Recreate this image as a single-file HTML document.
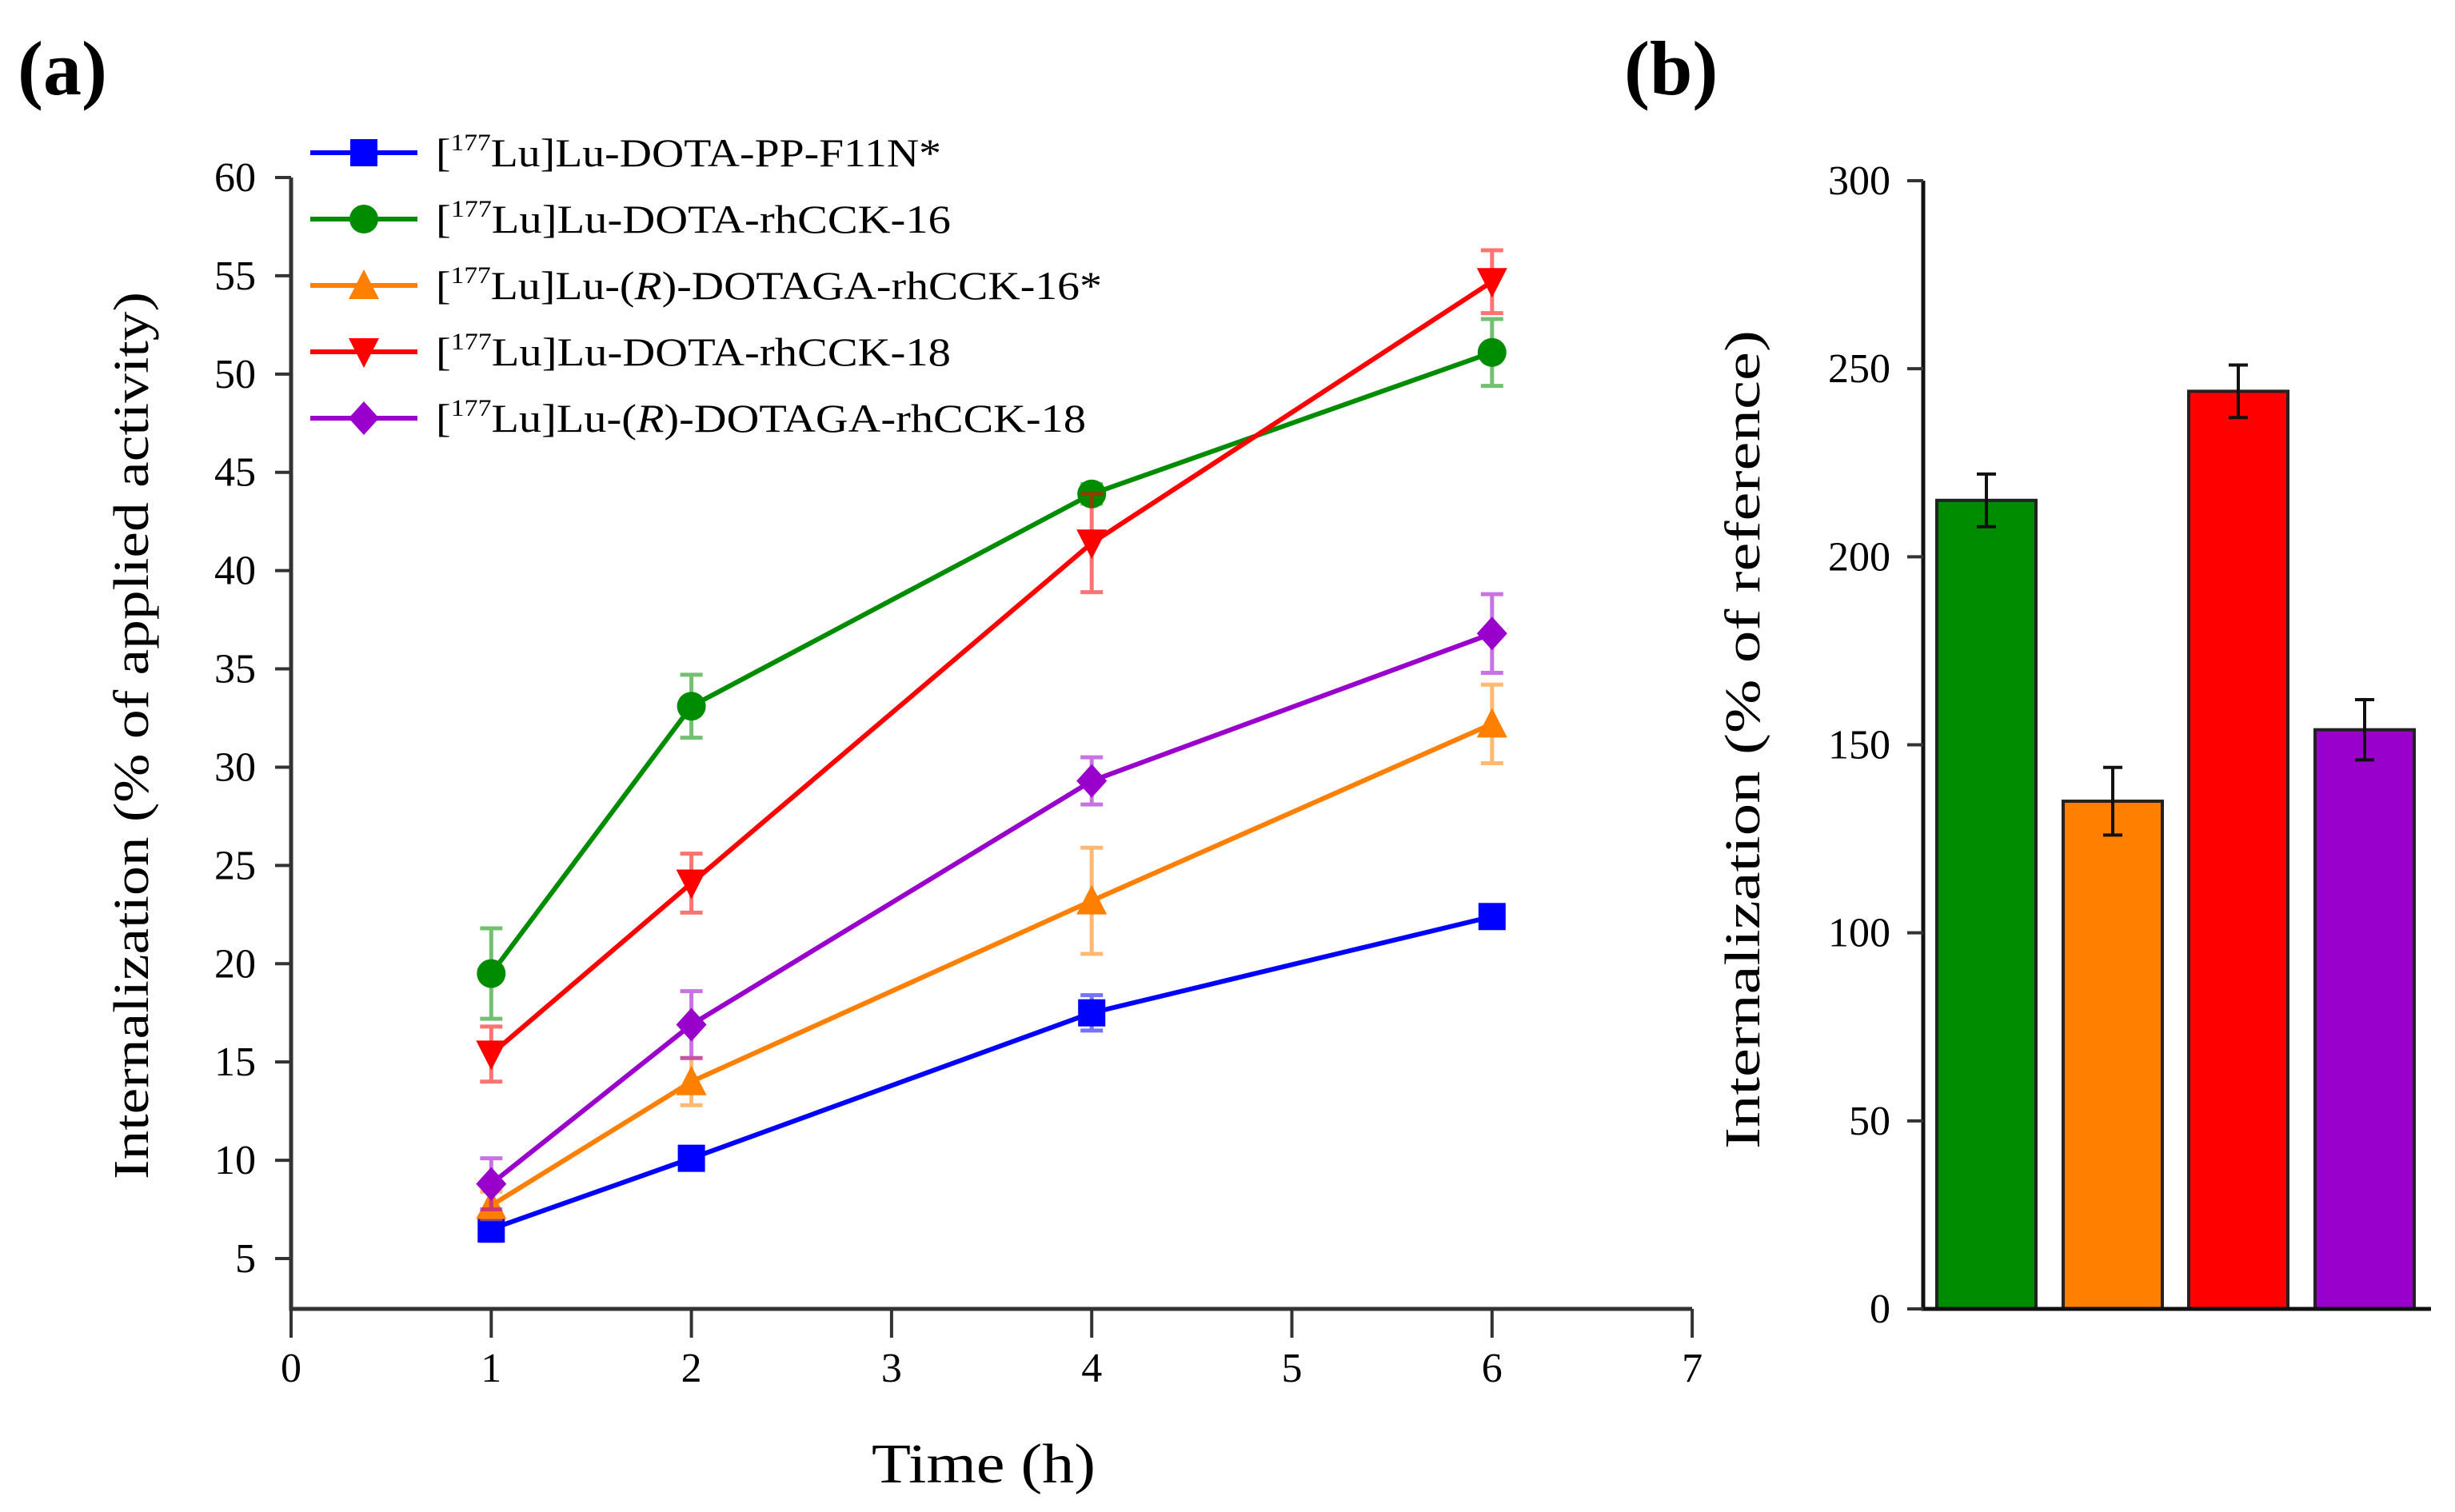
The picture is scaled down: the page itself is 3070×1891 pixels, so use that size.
<!DOCTYPE html>
<html><head><meta charset="utf-8"><style>
html,body{margin:0;padding:0;background:#fff;}
svg{display:block;font-family:"Liberation Serif",serif;}
</style></head><body>
<svg id="chart" width="3070" height="1891" viewBox="0 0 3070 1891" xmlns="http://www.w3.org/2000/svg">
<text x="22" y="118" font-size="96" font-weight="bold">(a)</text>
<text x="2031" y="118" font-size="96" font-weight="bold">(b)</text>
<g id="pa"></g>
<g id="pb"></g>
</svg>
<script>
const times=[1,2,4,6];
const seriesNames=["DOTA-PP-F11N*","DOTA-rhCCK-16","(R)-DOTAGA-rhCCK-16*","DOTA-rhCCK-18","(R)-DOTAGA-rhCCK-18"];
const blueVals=[6.5,10.1,17.5,22.4];
const blueErr=[0.6,0.5,0.9,0.5];
const greenVals=[19.5,33.1,43.9,51.1];
const greenErr=[2.3,1.6,0.5,1.7];
const orangeVals=[7.7,14.0,23.2,32.2];
const orangeErr=[0.7,1.2,2.7,2.0];
const redVals=[15.4,24.1,41.4,54.7];
const redErr=[1.4,1.5,2.5,1.6];
const purpleVals=[8.8,16.9,29.3,36.8];
const purpleErr=[1.3,1.7,1.2,2.0];
const xTicks=[0,1,2,3,4,5,6,7];
const yTicks=[5,10,15,20,25,30,35,40,45,50,55,60];
const barVals=[215,135,244,154];
const barErr=[7,9,7,8];
const barTicks=[0,50,100,150,200,250,300];

const NS="http://www.w3.org/2000/svg";
function mk(parent,tag,attrs,text){const e=document.createElementNS(NS,tag);for(const k in attrs)e.setAttribute(k,attrs[k]);if(text!==undefined)e.textContent=text;parent.appendChild(e);return e;}
const pa=document.getElementById('pa'), pb=document.getElementById('pb');
const xs=v=>364+v*250.3;
const ys=v=>1574-(v-5)*(1352/55);
const axA=mk(pa,'path',{d:`M364,222 L364,1637 L2116,1637`,stroke:'#333',fill:'none','stroke-width':5});


yTicks.forEach(t=>{
  const l=mk(pa,'line',{x1:344,x2:364,y1:ys(t),y2:ys(t),stroke:'#333','stroke-width':4});
  
  
  const tx=mk(pa,'text',{x:320,y:ys(t)+17,'font-size':52,'text-anchor':'end'},String(t));
  
  
});
xTicks.forEach(t=>{
  const l=mk(pa,'line',{x1:xs(t),x2:xs(t),y1:1637,y2:1673,stroke:'#333','stroke-width':4});
  
  
  const tx=mk(pa,'text',{x:xs(t),y:1728,'font-size':52,'text-anchor':'middle'},String(t));
  
  
});
let t1=mk(pa,'text',{x:0,y:0,'font-size':62,'text-anchor':'middle',transform:'translate(185,920) rotate(-90)',textLength:1110,lengthAdjust:'spacingAndGlyphs'},'Internalization (% of applied activity)');


let t2=mk(pa,'text',{x:1230,y:1854,'font-size':70,'text-anchor':'middle',textLength:280,lengthAdjust:'spacingAndGlyphs'},'Time (h)');



function marker(g,shape,cx,cy,col){
  const s=17;
  if(shape==='sq') return mk(g,'rect',{x:cx-s,y:cy-s,width:2*s,height:2*s,fill:col});
  if(shape==='ci') return mk(g,'circle',{cx:cx,cy:cy,r:s+1,fill:col});
  if(shape==='up') return mk(g,'polygon',{points:`${cx},${cy-s-3} ${cx+s+2},${cy+s} ${cx-s-2},${cy+s}`,fill:col});
  if(shape==='dn') return mk(g,'polygon',{points:`${cx},${cy+s+3} ${cx+s+2},${cy-s} ${cx-s-2},${cy-s}`,fill:col});
  return mk(g,'polygon',{points:`${cx},${cy-s-4} ${cx+s+2},${cy} ${cx},${cy+s+4} ${cx-s-2},${cy}`,fill:col});
}
const defs=[
 {vals:blueVals,err:blueErr,col:'#0000ff',sh:'sq',name:'series-dota-pp-f11n'},
 {vals:greenVals,err:greenErr,col:'#008c00',sh:'ci',name:'series-dota-rhcck-16'},
 {vals:orangeVals,err:orangeErr,col:'#ff7f00',sh:'up',name:'series-dotaga-rhcck-16'},
 {vals:redVals,err:redErr,col:'#ff0000',sh:'dn',name:'series-dota-rhcck-18'},
 {vals:purpleVals,err:purpleErr,col:'#9900cc',sh:'di',name:'series-dotaga-rhcck-18'}
];
const legendLen=[632,644,833,644,813];
defs.forEach((d,i)=>{
  const g=mk(pa,'g',{});
  
  
  times.forEach((t,j)=>{
    const x=xs(t),y1=ys(d.vals[j]+d.err[j]),y2=ys(d.vals[j]-d.err[j]);
    const eb=mk(g,'path',{d:`M${x},${y1}L${x},${y2}M${x-14},${y1}L${x+14},${y1}M${x-14},${y2}L${x+14},${y2}`,stroke:d.col,'stroke-opacity':0.55,'stroke-width':5,fill:'none'});
    
    
  });
  const pl=mk(g,'polyline',{points:times.map((t,j)=>xs(t)+','+ys(d.vals[j])).join(' '),stroke:d.col,'stroke-width':6,fill:'none'});
  
  
  times.forEach((t,j)=>{
    const m=marker(g,d.sh,xs(t),ys(d.vals[j]),d.col);
    
    
  });
  const ly=191+i*83;
  const lg=mk(pa,'g',{});
  
  
  mk(lg,'line',{x1:388,x2:522,y1:ly,y2:ly,stroke:d.col,'stroke-width':6});
  marker(lg,d.sh,455,ly,d.col);
  const tx=mk(lg,'text',{x:545,y:ly+17,'font-size':50,textLength:legendLen[i],lengthAdjust:'spacingAndGlyphs'});
  tx.appendChild(document.createTextNode('['));
  mk(tx,'tspan',{'font-size':30,dy:-20},'177');
  const rest=mk(tx,'tspan',{dy:20},'');
  const nm=seriesNames[i];
  if(nm.startsWith('(R)')){rest.textContent='Lu]Lu-(';mk(tx,'tspan',{'font-style':'italic'},'R');mk(tx,'tspan',{},')'+nm.slice(3));}
  else rest.textContent='Lu]Lu-'+nm;
});

const by=v=>1637-v*(1411/300);
const barX=[2422,2580,2737,2895];
const barCol=['#008c00','#ff7f00','#ff0000','#9900cc'];
const barNames=['bar-dota-rhcck-16','bar-dotaga-rhcck-16','bar-dota-rhcck-18','bar-dotaga-rhcck-18'];
barVals.forEach((v,i)=>{
  const r=mk(pb,'rect',{x:barX[i],y:by(v),width:124,height:1637-by(v),fill:barCol[i],stroke:'#222','stroke-width':4});
  
  
  const cx=barX[i]+62,y1=by(v+barErr[i]),y2=by(v-barErr[i]);
  const e=mk(pb,'path',{d:`M${cx},${y1}L${cx},${y2}M${cx-12},${y1}L${cx+12},${y1}M${cx-12},${y2}L${cx+12},${y2}`,stroke:'#111','stroke-width':4,fill:'none'});
  
  
});
const axB=mk(pb,'path',{d:`M2405,226 L2405,1637 L3040,1637`,stroke:'#111',fill:'none','stroke-width':5});


barTicks.forEach(t=>{
  const l=mk(pb,'line',{x1:2385,x2:2405,y1:by(t),y2:by(t),stroke:'#333','stroke-width':4});
  
  
  const tx=mk(pb,'text',{x:2364,y:by(t)+17,'font-size':52,'text-anchor':'end'},String(t));
  
  
});
let t3=mk(pb,'text',{x:0,y:0,'font-size':62,'text-anchor':'middle',transform:'translate(2200,925) rotate(-90)',textLength:1024,lengthAdjust:'spacingAndGlyphs'},'Internalization (% of reference)');


</script>
</body></html>
